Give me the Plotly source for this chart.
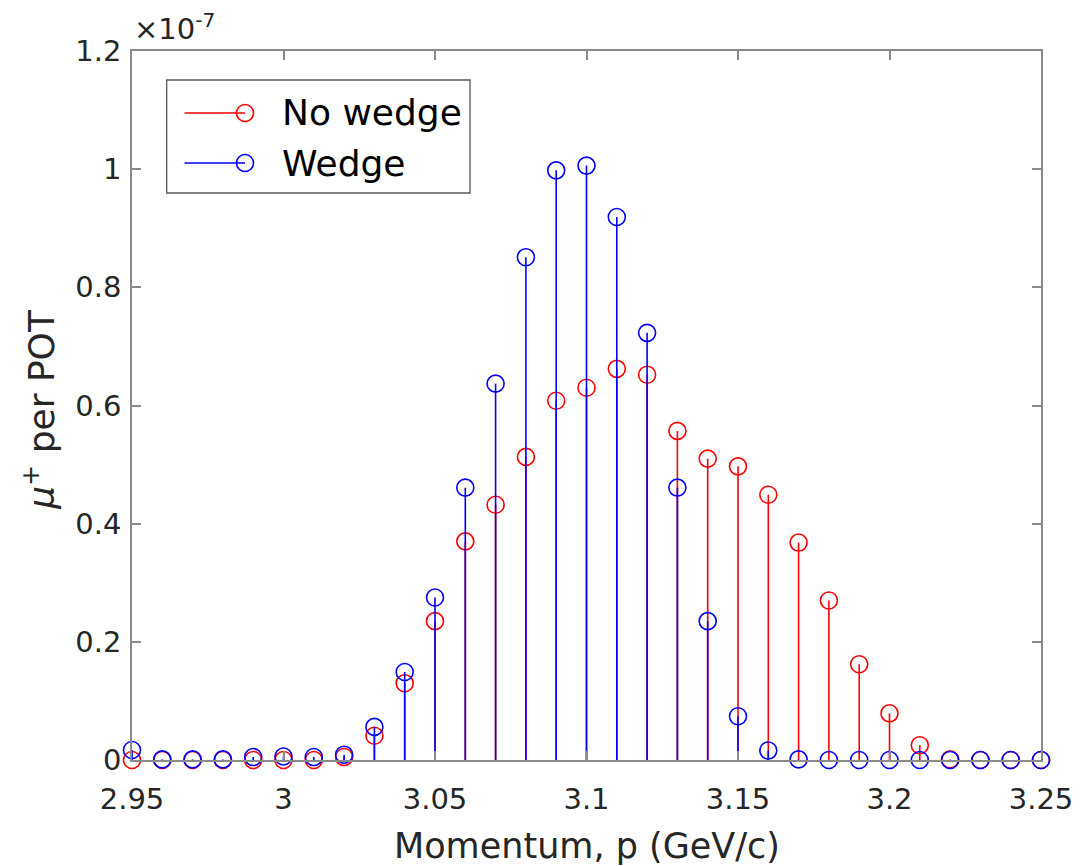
import plotly.graph_objects as go

# Momentum bins (GeV/c)
momentum = [2.95, 2.96, 2.97, 2.98, 2.99, 3.00, 3.01, 3.02, 3.03, 3.04,
            3.05, 3.06, 3.07, 3.08, 3.09, 3.10, 3.11, 3.12, 3.13, 3.14,
            3.15, 3.16, 3.17, 3.18, 3.19, 3.20, 3.21, 3.22, 3.23, 3.24, 3.25]

# mu+ per POT, in units of 1e-7
no_wedge = [0.000, 0.000, 0.000, 0.000, 0.000, 0.000, 0.000, 0.005, 0.041, 0.130,
            0.235, 0.370, 0.432, 0.513, 0.608, 0.630, 0.662, 0.652, 0.557, 0.510,
            0.497, 0.449, 0.368, 0.270, 0.162, 0.079, 0.025, 0.001, 0.000, 0.000, 0.000]
wedge = [0.017, 0.001, 0.001, 0.001, 0.005, 0.006, 0.005, 0.009, 0.056, 0.149,
         0.275, 0.461, 0.637, 0.851, 0.998, 1.006, 0.919, 0.723, 0.461, 0.235,
         0.074, 0.016, 0.001, 0.000, 0.000, 0.000, 0.000, 0.000, 0.000, 0.000, 0.000]

x_ticks = [2.95, 3.00, 3.05, 3.10, 3.15, 3.20, 3.25]
x_tick_text = ["2.95", "3", "3.05", "3.1", "3.15", "3.2", "3.25"]
y_ticks = [0, 0.2, 0.4, 0.6, 0.8, 1.0, 1.2]
y_tick_text = ["0", "0.2", "0.4", "0.6", "0.8", "1", "1.2"]

RED = "#ff0000"
BLUE = "#0000ff"
AXIS = "#8a8a8a"
TEXT = "#262626"
FONT = "DejaVu Sans"

W, H = 1085, 866
L, R, T, B = 132, 36, 51, 106
PW, PH = W - L - R, H - T - B


def px(xp):
    return (xp - L) / PW


def py(yp):
    return (H - B - yp) / PH


def stem_xy(xs, ys):
    sx, sy = [], []
    for xv, yv in zip(xs, ys):
        sx += [xv, xv, None]
        sy += [0, yv, None]
    return sx, sy


fig = go.Figure()
for name, vals, color in [("No wedge", no_wedge, RED), ("Wedge", wedge, BLUE)]:
    sx, sy = stem_xy(momentum, vals)
    fig.add_trace(go.Scatter(x=sx, y=sy, mode="lines", line=dict(color=color, width=1.6),
                             showlegend=False, hoverinfo="skip", cliponaxis=False))
    fig.add_trace(go.Scatter(x=momentum, y=vals, mode="markers", name=name,
                             marker=dict(symbol="circle-open", size=17, color=color,
                                         line=dict(color=color, width=1.6)),
                             showlegend=False, cliponaxis=False))

axis_common = dict(showgrid=False, zeroline=False, showline=True, linecolor=AXIS,
                   linewidth=1.5, mirror="ticks", ticks="inside", ticklen=9,
                   tickwidth=1.5, tickcolor=AXIS,
                   tickfont=dict(family=FONT, size=29, color=TEXT))

fig.update_xaxes(range=[2.95, 3.25], tickvals=x_ticks, ticktext=x_tick_text,
                 ticklabelstandoff=12, **axis_common)
fig.update_yaxes(range=[0, 1.2], tickvals=y_ticks, ticktext=y_tick_text,
                 ticklabelstandoff=3, **axis_common)

shapes = []
annotations = []

# legend frame and entries
shapes.append(dict(type="rect", xref="paper", yref="paper",
                   x0=px(167), x1=px(473), y0=py(193), y1=py(80),
                   line=dict(color="#5a5a5a", width=1.3), fillcolor="white", layer="above"))
for label, color, ypix in [("No wedge", RED, 113), ("Wedge", BLUE, 163)]:
    shapes.append(dict(type="line", xref="paper", yref="paper",
                       x0=px(185), x1=px(246), y0=py(ypix), y1=py(ypix),
                       line=dict(color=color, width=1.6)))
    shapes.append(dict(type="circle", xref="paper", yref="paper",
                       xsizemode="pixel", ysizemode="pixel",
                       xanchor=px(246), yanchor=py(ypix),
                       x0=-8.5, x1=8.5, y0=-8.5, y1=8.5,
                       line=dict(color=color, width=1.6)))
    annotations.append(dict(text=label, xref="paper", yref="paper",
                            x=px(281), y=py(ypix), xanchor="left", yanchor="middle",
                            showarrow=False, font=dict(family=FONT, size=36, color="black")))

# exponent multiplier
annotations.append(dict(text="×10<sup>-7</sup>", xref="paper", yref="paper",
                        x=px(132), y=py(48), xanchor="left", yanchor="bottom",
                        showarrow=False, font=dict(family=FONT, size=29, color=TEXT)))

# axis titles
annotations.append(dict(text="Momentum, p (GeV/c)", xref="paper", yref="paper",
                        x=px(591), y=py(846), xanchor="center", yanchor="middle",
                        showarrow=False, font=dict(family=FONT, size=35, color=TEXT)))
annotations.append(dict(text="<i>μ</i><sup>+</sup> per POT", xref="paper", yref="paper",
                        x=px(38), y=py(409), xanchor="center", yanchor="middle",
                        textangle=-90, showarrow=False,
                        font=dict(family=FONT, size=36, color=TEXT)))

fig.update_layout(width=W, height=H, margin=dict(l=L, r=R, t=T, b=B),
                  paper_bgcolor="white", plot_bgcolor="white",
                  shapes=shapes, annotations=annotations, showlegend=False)

fig.write_html("out.html")
